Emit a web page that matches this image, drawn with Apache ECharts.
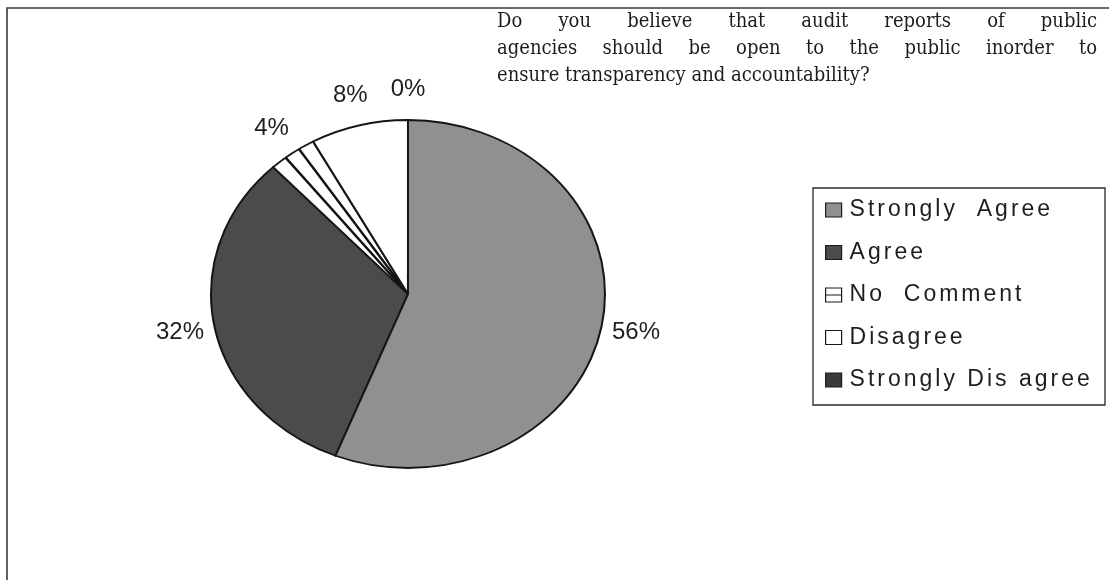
<!DOCTYPE html>
<html>
<head>
<meta charset="utf-8">
<script src="https://cdn.jsdelivr.net/npm/echarts@6/dist/echarts.min.js"></script>
<style>
  html, body { margin: 0; padding: 0; background: #ffffff; }
  #chart { width: 1109px; height: 580px; }
</style>
</head>
<body>
<div id="chart"></div>
<script>
// Survey answers and their shares (percent of respondents)
const categories = ['Strongly  Agree', 'Agree', 'No  Comment', 'Disagree', 'Strongly Dis agree'];
const shares = [56, 32, 4, 8, 0];

// Question text, one entry per printed line
const titleLines = [
  'Do you believe that audit reports of public',
  'agencies should be open to the public inorder to',
  'ensure transparency and accountability?'
];

// Slice fills, in category order
const fills = ['#909090', '#4b4b4b', '#ffffff', '#ffffff', '#3a3a3a'];

// Pie geometry: the pie is drawn as an ellipse (circle stretched horizontally)
const CX = 408, CY = 294, RY = 174, SX = 197 / 174;
const LABEL_GAP = 31;

// Legend lettering is set with a little extra tracking
const LEGEND_FAMILY = '"Liberation Sans", Arimo, sans-serif';
(function () {
  const proto = CanvasRenderingContext2D.prototype;
  const fillText = proto.fillText;
  proto.fillText = function (text, x, y, maxWidth) {
    if ('letterSpacing' in this && this.font.indexOf('Arimo') !== -1) {
      const prev = this.letterSpacing;
      this.letterSpacing = '3px';
      const r = maxWidth === undefined ? fillText.call(this, text, x, y) : fillText.call(this, text, x, y, maxWidth);
      this.letterSpacing = prev;
      return r;
    }
    return maxWidth === undefined ? fillText.call(this, text, x, y) : fillText.call(this, text, x, y, maxWidth);
  };
})();

// Running totals give each slice its start position
const starts = [];
shares.reduce((acc, v, i) => { starts[i] = acc; return acc + v; }, 0);

const total = shares.reduce((a, b) => a + b, 0);
const toAngle = p => -Math.PI / 2 + (p / total) * Math.PI * 2;
const ellipsePoint = (a, r) => [CX + r * SX * Math.cos(a), CY + r * Math.sin(a)];

function renderSlice(params, api) {
  const start = api.value(0);
  const value = api.value(1);
  const a0 = toAngle(start);
  const a1 = toAngle(start + value);
  const color = api.visual('color');
  const children = [];

  children.push({
    type: 'sector',
    shape: { cx: CX, cy: CY, r: RY, r0: 0, startAngle: a0, endAngle: a1, clockwise: true },
    scaleX: SX, scaleY: 1, originX: CX, originY: CY,
    style: { fill: color, stroke: '#161616', lineWidth: 1.8 }
  });

  // "No Comment" is filled with a radial line hatch
  if (params.seriesIndex === 2) {
    const steps = 3;
    for (let k = 1; k < steps; k++) {
      const a = a0 + (a1 - a0) * k / steps;
      const p = ellipsePoint(a, RY);
      children.push({
        type: 'line',
        shape: { x1: CX, y1: CY, x2: p[0], y2: p[1] },
        style: { stroke: '#111111', lineWidth: 2.4 }
      });
    }
  }

  // percentage label just outside the rim
  const mid = (a0 + a1) / 2;
  const lp = ellipsePoint(mid, RY + LABEL_GAP);
  children.push({
    type: 'text',
    x: lp[0], y: lp[1],
    style: {
      text: value + '%',
      fontFamily: '"Liberation Sans", sans-serif',
      fontSize: 24,
      fill: '#1e1e1e',
      align: 'center',
      verticalAlign: 'middle'
    }
  });

  return { type: 'group', children: children };
}

// Justified question text: each word is placed so full lines span the same width
const TITLE_FONT = '20px "DejaVu Serif Condensed", "DejaVu Serif", serif';
const TITLE_LEFT = 497, TITLE_RIGHT = 1097;
const titleTops = [22, 49, 76];
const measureCtx = document.createElement('canvas').getContext('2d');
measureCtx.font = TITLE_FONT;
const titleGraphics = [];
titleLines.forEach((line, li) => {
  const words = line.split(' ');
  const widths = words.map(w => measureCtx.measureText(w).width);
  const last = li === titleLines.length - 1;
  const spaceW = measureCtx.measureText(' ').width;
  const gap = last ? spaceW
    : (TITLE_RIGHT - TITLE_LEFT - widths.reduce((a, b) => a + b, 0)) / (words.length - 1);
  let x = TITLE_LEFT;
  words.forEach((w, wi) => {
    titleGraphics.push({
      type: 'text',
      x: x, y: titleTops[li],
      style: {
        text: w,
        font: TITLE_FONT,
        fill: '#1c1c1c',
        verticalAlign: 'middle'
      }
    });
    x += widths[wi] + gap;
  });
});

const legendIcons = [
  'rect',
  'rect',
  'path://M0,0H16V14H0ZM0,7H16',
  'rect',
  'rect'
];

const series = categories.map((name, i) => ({
  type: 'custom',
  name: name,
  coordinateSystem: 'none',
  renderItem: renderSlice,
  itemStyle: { color: fills[i] },
  data: [[starts[i], shares[i]]],
  z: i === 0 ? 3 : 2
}));

const chart = echarts.init(document.getElementById('chart'), null, { renderer: 'canvas' });
chart.setOption({
  animation: false,
  backgroundColor: '#ffffff',
  graphic: [
    {
      type: 'rect',
      shape: { x: 7, y: 8, width: 1300, height: 800 },
      style: { fill: 'none', stroke: '#3a3a3a', lineWidth: 1.6 },
      silent: true
    },
    {
      type: 'rect',
      shape: { x: 813, y: 188, width: 292, height: 217 },
      style: { fill: 'none', stroke: '#2a2a2a', lineWidth: 1.3 },
      silent: true
    }
  ].concat(titleGraphics),
  legend: {
    orient: 'vertical',
    left: 825,
    top: 198,
    padding: 0,
    itemWidth: 16,
    itemHeight: 14,
    itemGap: 18.5,
    selectedMode: false,
    itemStyle: { borderColor: '#1a1a1a', borderWidth: 1.2 },
    textStyle: {
      fontFamily: LEGEND_FAMILY,
      fontSize: 23,
      lineHeight: 24,
      color: '#1e1e1e',
      padding: [0, 0, 0, 3]
    },
    data: categories.map((name, i) => ({ name: name, icon: legendIcons[i] }))
  },
  series: series
});
</script>
</body>
</html>
